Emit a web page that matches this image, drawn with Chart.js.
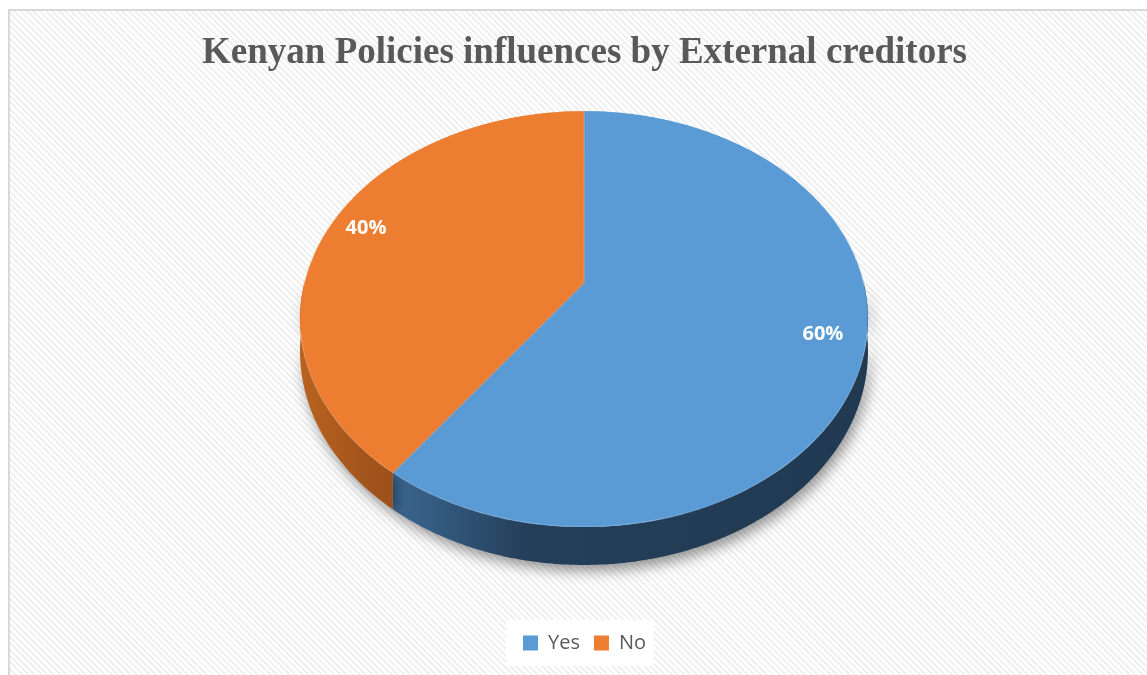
<!DOCTYPE html>
<html>
<head>
<meta charset="utf-8">
<title>Kenyan Policies influences by External creditors</title>
<script src="https://cdn.jsdelivr.net/npm/chart.js@4.4.1/dist/chart.umd.min.js"></script>
<style>
    html, body {
        margin: 0;
        padding: 0;
        background: #ffffff;
        overflow: hidden;
    }
    #frame {
        position: absolute;
        left: 8px;
        top: 9px;
        width: 1200px;
        height: 720px;
        border: 2px solid #d9d9d9;
        background: repeating-linear-gradient(45deg, #ffffff 0px, #ffffff 2.5px, #f0f0f0 2.5px, #f0f0f0 4.5px);
    }
    #wrap {
        position: absolute;
        left: 0;
        top: 0;
        width: 1147px;
        height: 675px;
    }
</style>
</head>
<body>
<div id="frame"></div>
<div id="wrap"><canvas id="policyPie" width="1147" height="675"></canvas></div>
<script>
const categories = ['Yes', 'No'];
const shares = [60, 40];
const sliceColors = ['#5b9bd5', '#ed7d31'];

// tilted disc: vertex on screen, half-axes, perspective factor, rim depth
const disc = { x0: 584, y0: 283, hx: 279.7, hy: 201.8, c: -0.173, depth: 31.4, r: 280 };

function project(u, v) {
    const k = 1 + disc.c * v;
    return [disc.x0 + disc.hx * u / k, disc.y0 + disc.hy * v / k];
}

function rimGradient(ctx, index) {
    let g;
    if (index === 0) {
        g = ctx.createLinearGradient(390, 0, 870, 0);
        g.addColorStop(0, '#3c6893');
        g.addColorStop(0.28, '#243f5a');
        g.addColorStop(1, '#213a52');
    } else {
        g = ctx.createLinearGradient(300, 0, 400, 0);
        g.addColorStop(0, '#b8621f');
        g.addColorStop(1, '#994e1a');
    }
    return g;
}

// rim of the disc, front half only
function drawRim(ctx, arcs) {
    arcs.forEach((arc, i) => {
        [0, -2 * Math.PI].forEach(shift => {
            const lo = Math.max(arc.startAngle + shift, 0);
            const hi = Math.min(arc.endAngle + shift, Math.PI);
            if (hi <= lo) return;
            const steps = Math.max(8, Math.ceil((hi - lo) * 90));
            ctx.beginPath();
            for (let s = 0; s <= steps; s++) {
                const a = lo + (hi - lo) * s / steps;
                const p = project(Math.cos(a), Math.sin(a));
                if (s === 0) ctx.moveTo(p[0], p[1]); else ctx.lineTo(p[0], p[1]);
            }
            for (let s = steps; s >= 0; s--) {
                const a = lo + (hi - lo) * s / steps;
                const v = Math.sin(a);
                const p = project(Math.cos(a), v);
                ctx.lineTo(p[0], p[1] + disc.depth / (1 + disc.c * v));
            }
            ctx.closePath();
            ctx.fillStyle = rimGradient(ctx, i);
            ctx.fill();
        });
    });
}

const tiltedPie = {
    id: 'tiltedPie',
    beforeDraw(chart) {
        // white panel behind the legend
        const boxes = chart.legend.legendHitBoxes;
        if (!boxes || !boxes.length) return;
        let l = Infinity, r = -Infinity, t = Infinity, b = -Infinity;
        boxes.forEach(h => {
            l = Math.min(l, h.left); r = Math.max(r, h.left + h.width);
            t = Math.min(t, h.top); b = Math.max(b, h.top + h.height);
        });
        const ctx = chart.ctx;
        ctx.save();
        ctx.fillStyle = '#ffffff';
        ctx.fillRect(l - 17, t - 13, r - l + 25, b - t + 26);
        ctx.restore();
    },
    beforeDatasetsDraw(chart) {
        const ctx = chart.ctx;
        const arcs = chart.getDatasetMeta(0).data;
        const cx = arcs[0].x, cy = arcs[0].y, R = arcs[0].outerRadius;

        // flat pie drawn by the arc elements on a scratch canvas
        const off = document.createElement('canvas');
        off.width = chart.width;
        off.height = Math.max(chart.height, Math.ceil(cy + R + 4));
        const offCtx = off.getContext('2d');
        arcs.forEach(arc => arc.draw(offCtx, chart.chartArea));

        ctx.save();
        ctx.shadowColor = 'rgba(0, 0, 0, 0.42)';
        ctx.shadowBlur = 14;
        ctx.shadowOffsetX = 3;
        ctx.shadowOffsetY = 6;
        drawRim(ctx, arcs);
        ctx.restore();

        // lay the flat pie down in perspective, one row at a time
        ctx.save();
        const yTop = Math.floor(project(0, -1)[1]) - 1;
        const yBot = Math.ceil(project(0, 1)[1]) + 1;
        for (let y = yTop; y <= yBot; y++) {
            const t = (y + 0.5 - disc.y0) / disc.hy;
            const v = t / (1 - disc.c * t);
            if (v < -1 || v > 1) continue;
            const m = disc.hx / ((1 + disc.c * v) * R);
            const sy = cy + R * v;
            const sx = cx - R - 2;
            ctx.drawImage(off, sx, sy - 0.5, 2 * R + 4, 1, disc.x0 + m * (sx - cx), y, (2 * R + 4) * m, 1);
        }
        ctx.restore();

        // percentage labels
        const total = shares.reduce((a, b) => a + b, 0);
        ctx.save();
        ctx.fillStyle = '#ffffff';
        ctx.font = 'bold 20px "Open Sans"';
        ctx.textAlign = 'center';
        ctx.textBaseline = 'middle';
        arcs.forEach((arc, i) => {
            const mid = (arc.startAngle + arc.endAngle) / 2;
            const p = project(0.86 * Math.cos(mid), 0.86 * Math.sin(mid) - 0.02);
            ctx.fillText(Math.round(shares[i] / total * 100) + '%', p[0], p[1]);
        });
        ctx.restore();
        return false;
    }
};

const pieCtx = document.getElementById('policyPie').getContext('2d');

new Chart(pieCtx, {
    type: 'pie',
    data: {
        labels: categories,
        datasets: [{
            data: shares,
            backgroundColor: sliceColors,
            borderWidth: 0,
            radius: disc.r,
            clip: false
        }]
    },
    options: {
        responsive: false,
        animation: false,
        events: [],
        layout: {
            padding: { left: 22, right: 0, top: 0, bottom: 12 }
        },
        plugins: {
            title: {
                display: true,
                text: 'Kenyan Policies influences by External creditors',
                color: '#595959',
                font: { family: '"Liberation Serif", "Times New Roman", serif', size: 37, weight: 'bold' },
                padding: { top: 31, bottom: 10 }
            },
            legend: {
                position: 'bottom',
                labels: {
                    color: '#595959',
                    boxWidth: 15,
                    boxHeight: 15,
                    padding: 14,
                    font: { family: '"Open Sans", sans-serif', size: 20 }
                }
            },
            tooltip: { enabled: false }
        }
    },
    plugins: [tiltedPie]
});
</script>
</body>
</html>
